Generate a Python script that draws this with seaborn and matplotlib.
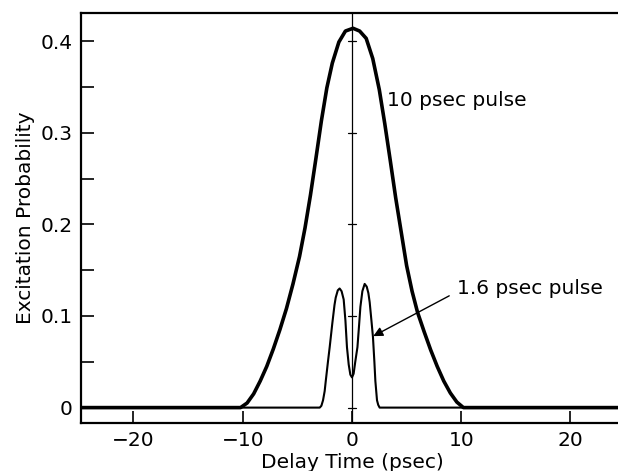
import numpy as np
import pandas as pd
import matplotlib
matplotlib.use('Agg')
import matplotlib.pyplot as plt
import seaborn as sns

# 10 psec pulse
long_t = [-24.8, -10.2, -9.6, -9.0, -8.4, -7.8, -7.2, -6.6, -6.0, -5.4, -4.8, -4.3,
          -3.8, -3.3, -2.8, -2.3, -1.8, -1.2, -0.6, 0.1, 0.7, 1.3, 1.9, 2.5, 3.0,
          3.5, 4.0, 4.5, 5.0, 5.5, 6.0, 6.6, 7.2, 7.8, 8.4, 9.0, 9.6, 10.2, 24.8]
long_p = [0.0, 0.0, 0.005, 0.015, 0.029, 0.045, 0.064, 0.085, 0.108, 0.135, 0.165, 0.196,
          0.232, 0.272, 0.313, 0.349, 0.376, 0.399, 0.411, 0.414, 0.411, 0.403, 0.381, 0.347, 0.310,
          0.270, 0.229, 0.192, 0.155, 0.127, 0.104, 0.083, 0.063, 0.045, 0.029, 0.016, 0.006, 0.0, 0.0]

# 1.6 psec pulse
short_t = [-24.8, -2.95, -2.8, -2.65, -2.5, -2.4, -2.2, -2.04, -1.8, -1.6, -1.49, -1.3,
           -1.13, -0.95, -0.76, -0.6, -0.46, -0.3, -0.15, 0.0, 0.15, 0.3, 0.5, 0.65,
           0.77, 0.95, 1.16, 1.35, 1.5, 1.62, 1.78, 1.92, 2.05, 2.14, 2.29, 2.4, 2.53, 24.8]
short_p = [0.0, 0.0, 0.002, 0.008, 0.018, 0.029, 0.050, 0.066, 0.092, 0.112, 0.120, 0.128,
           0.130, 0.127, 0.118, 0.095, 0.066, 0.047, 0.036, 0.033, 0.037, 0.050, 0.066, 0.090,
           0.110, 0.127, 0.135, 0.132, 0.125, 0.115, 0.095, 0.077, 0.050, 0.029, 0.008, 0.003, 0.0, 0.0]

x_ticks = [-20, -10, 0, 10, 20]
y_ticks = [0, 0.1, 0.2, 0.3, 0.4]
y_labels = ['0', '0.1', '0.2', '0.3', '0.4']

sns.set_style('ticks')
plt.rcParams['font.family'] = ['DejaVu Sans']
plt.rcParams['font.size'] = 14.5
plt.rcParams['text.color'] = 'black'
plt.rcParams['axes.labelcolor'] = 'black'
plt.rcParams['xtick.color'] = 'black'
plt.rcParams['ytick.color'] = 'black'

fig = plt.figure(figsize=(6.18, 4.71), dpi=100)
ax = fig.add_axes([0.1311, 0.1025, 0.8769, 0.8705])

long_df = pd.DataFrame({'t': long_t, 'p': long_p})
short_df = pd.DataFrame({'t': short_t, 'p': short_p})
sns.lineplot(data=long_df, x='t', y='p', color='black', lw=2.6, sort=False, ax=ax)
sns.lineplot(data=short_df, x='t', y='p', color='black', lw=1.5, sort=False, ax=ax)

# vertical line through zero delay with small cross ticks
ax.axvline(0, color='black', lw=0.9, zorder=1)
for yv in y_ticks:
    ax.plot([-0.4, 0.4], [yv, yv], color='black', lw=0.9)

ax.set_xlim(-24.8, 24.8)
ax.set_ylim(-0.0165, 0.431)
ax.set_xticks(x_ticks)
ax.set_yticks(y_ticks)
ax.set_yticklabels(y_labels)
ax.set_yticks([0.05, 0.15, 0.25, 0.35], minor=True)
ax.tick_params(axis='both', which='both', direction='in', length=9, width=1.2,
               labelsize=14.5, color='black', labelcolor='black')
ax.tick_params(axis='y', pad=6)
ax.tick_params(axis='x', pad=6)

for side in ['left', 'bottom', 'top']:
    ax.spines[side].set_linewidth(1.6)
    ax.spines[side].set_color('black')
ax.spines['right'].set_visible(False)

ax.set_xlabel('Delay Time (psec)', fontsize=14.5, labelpad=2)
ax.set_ylabel('Excitation Probability', fontsize=14.5, labelpad=4)

ax.text(3.2, 0.335, '10 psec pulse', fontsize=14.5, va='center', ha='left')
ax.text(9.6, 0.130, '1.6 psec pulse', fontsize=14.5, va='center', ha='left')
ax.annotate('', xy=(1.95, 0.078), xytext=(8.9, 0.122),
            arrowprops=dict(arrowstyle='-|>', color='black', lw=1.0,
                            mutation_scale=14, shrinkA=0, shrinkB=0))

plt.savefig('out.png', dpi=100)
plt.close()
